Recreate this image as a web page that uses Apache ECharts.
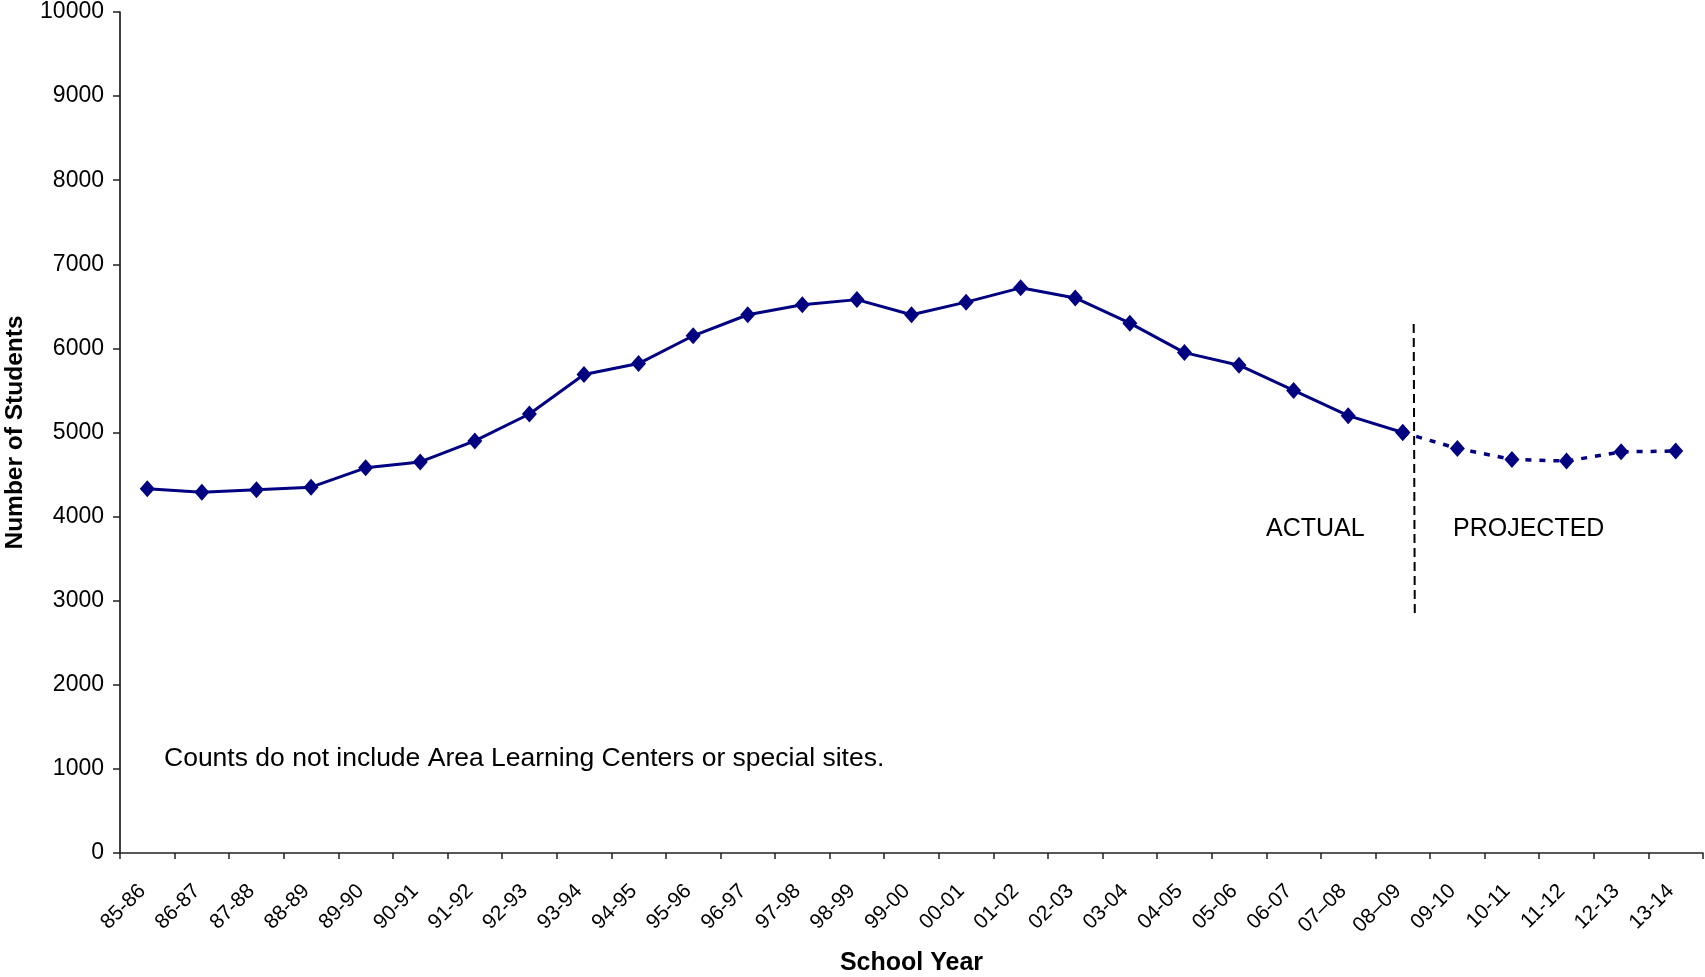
<!DOCTYPE html>
<html>
<head>
<meta charset="utf-8">
<script src="https://cdn.jsdelivr.net/npm/echarts@6/dist/echarts.min.js"></script>
<style>
html,body{margin:0;padding:0;background:#fff;}
#chart{width:1705px;height:977px;}
</style>
</head>
<body>
<div id="chart"></div>
<script>
var categories = ['85-86','86-87','87-88','88-89','89-90','90-91','91-92','92-93','93-94','94-95','95-96','96-97','97-98','98-99','99-00','00-01','01-02','02-03','03-04','04-05','05-06','06-07','07\u201308','08\u201309','09-10','10-11','11-12','12-13','13-14'];
var actualValues = [4330,4290,4320,4350,4580,4650,4900,5220,5690,5820,6150,6400,6520,6580,6400,6550,6720,6600,6300,5950,5800,5500,5200,5000];
var projectedValues = [4810,4680,4660,4770,4780];
var yTicks = [0,1000,2000,3000,4000,5000,6000,7000,8000,9000,10000];
var dividerX = [23.7, 23.72];
var dividerY = [6290, 2830];

var actualData = categories.map(function(c,i){ return i < actualValues.length ? actualValues[i] : '-'; });
var projectedData = categories.map(function(c,i){
  if (i === actualValues.length - 1) return actualValues[i];
  if (i >= actualValues.length) return projectedValues[i - actualValues.length];
  return '-';
});

var font = '"Liberation Sans", Arial, Helvetica, sans-serif';
var navy = '#000080';

var chart = echarts.init(document.getElementById('chart'));
chart.setOption({
  animation: false,
  backgroundColor: '#ffffff',
  grid: { left: 120, right: 2, top: 12, bottom: 124, containLabel: false, outerBoundsMode: 'none' },
  xAxis: [{
    type: 'category',
    data: categories,
    boundaryGap: true,
    name: 'School Year',
    nameLocation: 'middle',
    nameGap: 98,
    nameTextStyle: { fontFamily: font, fontSize: 25, fontWeight: 'bold', color: '#000' },
    axisLine: { lineStyle: { color: '#222', width: 1.5 } },
    axisTick: { show: true, length: 6, alignWithLabel: false, lineStyle: { color: '#222', width: 1.5 } },
    axisLabel: { rotate: 45, fontFamily: font, fontSize: 21, color: '#000', margin: 30, padding: [0, 7, 0, 0], interval: 0 },
    splitLine: { show: false }
  }, {
    type: 'value',
    min: 0, max: 29,
    show: false
  }],
  yAxis: {
    type: 'value',
    min: 0, max: 10000, interval: 1000,
    name: 'Number of Students',
    nameLocation: 'middle',
    nameGap: 92,
    nameTextStyle: { fontFamily: font, fontSize: 24.5, fontWeight: 'bold', color: '#000' },
    axisLine: { show: true, lineStyle: { color: '#000', width: 1.5 } },
    axisTick: { show: true, length: 7, lineStyle: { color: '#222', width: 1.5 } },
    axisLabel: { fontFamily: font, fontSize: 23, color: '#000', margin: 16,
      formatter: function(v){ return yTicks.indexOf(v) >= 0 ? String(v) : ''; } },
    splitLine: { show: false }
  },
  series: [{
    name: 'Actual',
    type: 'line',
    data: actualData,
    symbol: 'diamond',
    symbolSize: [15, 17],
    itemStyle: { color: navy },
    lineStyle: { color: navy, width: 3 },
    z: 3
  }, {
    name: 'Projected',
    type: 'line',
    data: projectedData,
    symbol: 'diamond',
    symbolSize: [15, 17],
    itemStyle: { color: navy },
    lineStyle: { color: navy, width: 3.5, type: [6, 8] },
    z: 3
  }, {
    name: 'Divider',
    type: 'line',
    xAxisIndex: 1,
    data: [[dividerX[0], dividerY[0]], [dividerX[1], dividerY[1]]],
    symbol: 'none',
    lineStyle: { color: '#000', width: 2, type: [9, 5] },
    silent: true,
    z: 2
  }],
  graphic: [{
    type: 'text', left: 1266, top: 517,
    style: { text: 'ACTUAL', font: '25px ' + font, fill: '#000' }
  }, {
    type: 'text', left: 1453, top: 517,
    style: { text: 'PROJECTED', font: '25px ' + font, fill: '#000' }
  }, {
    type: 'text', left: 164, top: 745,
    style: { text: 'Counts do not include Area Learning Centers or special sites.', font: '26.5px ' + font, fill: '#000' }
  }]
});
</script>
</body>
</html>
